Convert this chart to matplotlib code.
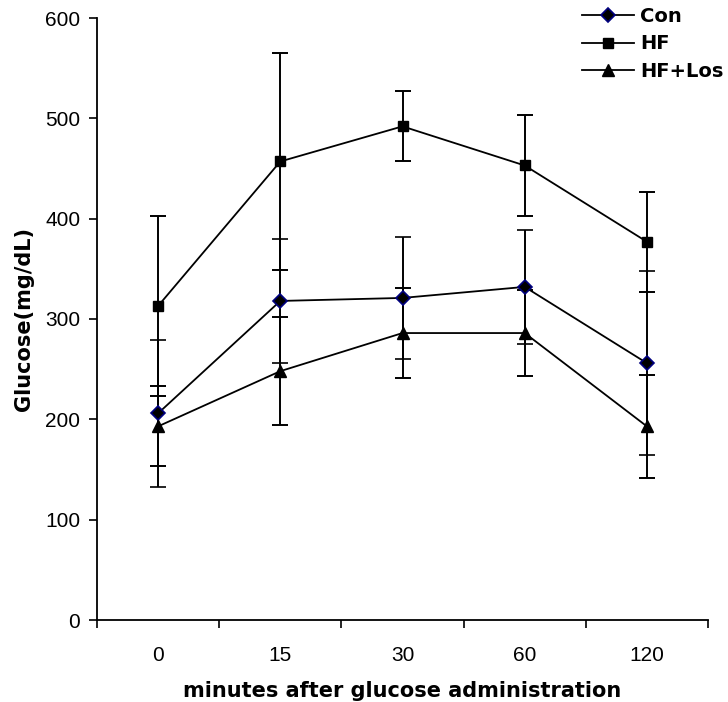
import numpy as np
import matplotlib.pyplot as plt

plt.rcParams['font.family'] = ['Liberation Sans Narrow', 'Liberation Sans', 'DejaVu Sans']

times = ['0', '15', '30', '60', '120']
con = [206, 318, 321, 332, 256]
con_err = [73, 62, 61, 57, 92]
hf = [313, 457, 492, 453, 377]
hf_err = [90, 108, 35, 50, 50]
hflos = [193, 248, 286, 286, 193]
hflos_err = [40, 54, 45, 43, 51]

fig = plt.figure(figsize=(7.28, 7.02), dpi=100)
ax = fig.add_axes([97/728, 82/702, 611/728, 602/702])

x = np.arange(len(times))
ekw = dict(color='black', lw=1.3, ecolor='black', elinewidth=1.4, capsize=5.5, capthick=1.4)
ax.errorbar(x, con, yerr=con_err, marker='D', ms=7.5, mfc='black', mec='navy', mew=1.2, label='Con', **ekw)
ax.errorbar(x, hf, yerr=hf_err, marker='s', ms=7.5, mfc='black', mec='black', label='HF', **ekw)
ax.errorbar(x, hflos, yerr=hflos_err, marker='^', ms=9, mfc='black', mec='black', label='HF+Los', **ekw)

ax.set_xlim(-0.5, len(times) - 0.5)
ax.set_ylim(0, 600)
ax.set_yticks(np.arange(0, 601, 100))
ax.set_xticks(np.arange(-0.5, len(times), 1.0))
ax.set_xticklabels([])
ax.set_xticks(x, minor=True)
ax.set_xticklabels(times, minor=True)
ax.tick_params(axis='x', which='minor', length=0, pad=19, labelsize=15)
ax.tick_params(axis='x', which='major', direction='out', length=6, width=1.2)
ax.tick_params(axis='y', direction='out', length=6, width=1.2, labelsize=15, pad=6)
for s in ['top', 'right']:
    ax.spines[s].set_visible(False)
for s in ['left', 'bottom']:
    ax.spines[s].set_linewidth(1.3)

bold = dict(family='DejaVu Sans', weight='bold')
ax.set_xlabel('minutes after glucose administration', fontsize=15, labelpad=11, **bold)
ax.set_ylabel('Glucose(mg/dL)', fontsize=15, labelpad=8, **bold)

h, l = ax.get_legend_handles_labels()
h = [hh[0] for hh in h]
fig.legend(h, l, loc='upper left', bbox_to_anchor=(570/728, 1.0 + 5/702), frameon=False,
           prop={'family': 'DejaVu Sans', 'weight': 'bold', 'size': 14},
           handlelength=2.7, handletextpad=0.3, labelspacing=0.45, borderaxespad=0.2)

fig.savefig('out.png', dpi=100)
